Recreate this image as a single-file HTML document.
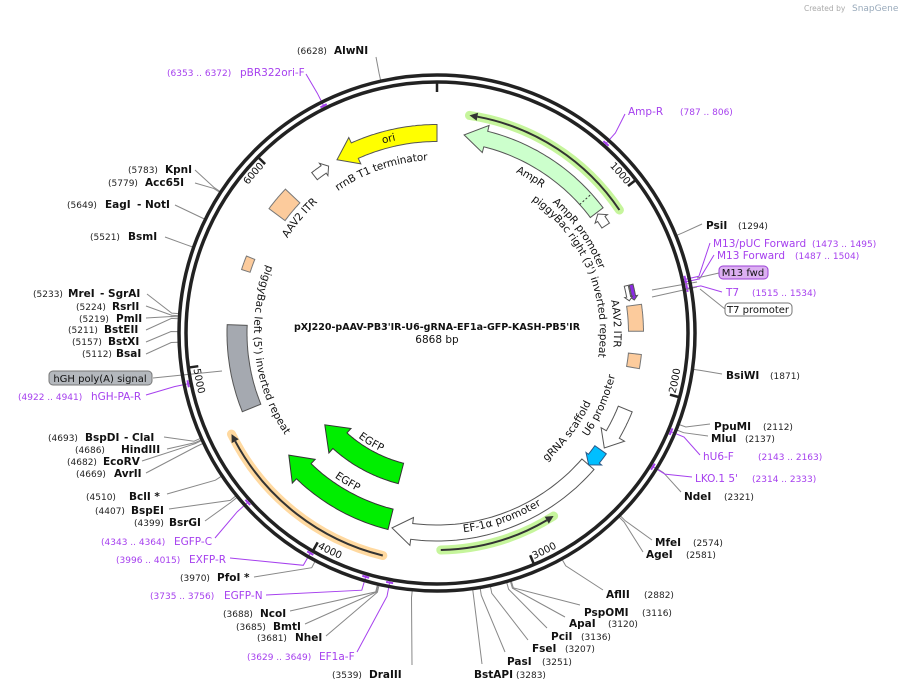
<!DOCTYPE html>
<html><head><meta charset="utf-8">
<style>
html,body{margin:0;padding:0;background:#fff;}
svg{display:block;font-family:"DejaVu Sans","Liberation Sans",sans-serif;}
.n{font-size:9px;fill:#222;}
.b{font-size:10.5px;font-weight:bold;fill:#111;}
.p{font-size:10.5px;fill:#a640ee;}
.pn{font-size:9px;fill:#a640ee;}
.f{font-size:10.5px;fill:#111;}
.t{font-size:10px;fill:#111;}
</style></head>
<body>
<svg id="s" width="901" height="690" viewBox="0 0 901 690" xmlns="http://www.w3.org/2000/svg">
<defs></defs>
<g id="g"></g>
<text x="804" y="11" style="font-size:7.5px;fill:#aaa">Created by</text>
<text x="852" y="11" style="font-size:9px;fill:#9ab">SnapGene</text>
<text x="437" y="330" text-anchor="middle" style="font-size:9.5px;font-weight:bold;fill:#111">pXJ220-pAAV-PB3'IR-U6-gRNA-EF1a-GFP-KASH-PB5'IR</text>
<text x="437" y="343" text-anchor="middle" style="font-size:10.5px;fill:#111">6868 bp</text>

<text x="297" y="54" class="n">(6628)</text><text x="334" y="54" class="b">AlwNI</text>
<text x="167" y="76" class="pn">(6353 .. 6372)</text><text x="240" y="76" class="p">pBR322ori-F</text>
<text x="128" y="173" class="n">(5783)</text><text x="165" y="173" class="b">KpnI</text>
<text x="108" y="186" class="n">(5779)</text><text x="145" y="186" class="b">Acc65I</text>
<text x="67" y="208" class="n">(5649)</text><text x="105" y="208" class="b">EagI</text><text x="137" y="208" class="b">- NotI</text>
<text x="90" y="240" class="n">(5521)</text><text x="128" y="240" class="b">BsmI</text>
<text x="33" y="297" class="n">(5233)</text><text x="68" y="297" class="b">MreI</text><text x="100" y="297" class="b">- SgrAI</text>
<text x="76" y="310" class="n">(5224)</text><text x="112" y="310" class="b">RsrII</text>
<text x="79" y="322" class="n">(5219)</text><text x="116" y="322" class="b">PmlI</text>
<text x="68" y="333" class="n">(5211)</text><text x="104" y="333" class="b">BstEII</text>
<text x="72" y="345" class="n">(5157)</text><text x="108" y="345" class="b">BstXI</text>
<text x="82" y="357" class="n">(5112)</text><text x="116" y="357" class="b">BsaI</text>
<rect x="49" y="371" width="103" height="14" rx="4" fill="#b4b8bd" stroke="#777"/>
<text x="100" y="382" text-anchor="middle" class="f" style="font-size:10px">hGH poly(A) signal</text>
<text x="18" y="400" class="pn">(4922 .. 4941)</text><text x="91" y="400" class="p">hGH-PA-R</text>
<text x="48" y="441" class="n">(4693)</text><text x="85" y="441" class="b">BspDI</text><text x="124" y="441" class="b">- ClaI</text>
<text x="75" y="453" class="n">(4686)</text><text x="121" y="453" class="b">HindIII</text>
<text x="67" y="465" class="n">(4682)</text><text x="103" y="465" class="b">EcoRV</text>
<text x="76" y="477" class="n">(4669)</text><text x="114" y="477" class="b">AvrII</text>
<text x="86" y="500" class="n">(4510)</text><text x="129" y="500" class="b">BclI *</text>
<text x="95" y="514" class="n">(4407)</text><text x="131" y="514" class="b">BspEI</text>
<text x="134" y="526" class="n">(4399)</text><text x="169" y="526" class="b">BsrGI</text>
<text x="101" y="545" class="pn">(4343 .. 4364)</text><text x="174" y="545" class="p">EGFP-C</text>
<text x="116" y="563" class="pn">(3996 .. 4015)</text><text x="189" y="563" class="p">EXFP-R</text>
<text x="180" y="581" class="n">(3970)</text><text x="217" y="581" class="b">PfoI *</text>
<text x="150" y="599" class="pn">(3735 .. 3756)</text><text x="224" y="599" class="p">EGFP-N</text>
<text x="223" y="617" class="n">(3688)</text><text x="260" y="617" class="b">NcoI</text>
<text x="236" y="630" class="n">(3685)</text><text x="273" y="630" class="b">BmtI</text>
<text x="257" y="641" class="n">(3681)</text><text x="295" y="641" class="b">NheI</text>
<text x="247" y="660" class="pn">(3629 .. 3649)</text><text x="319" y="660" class="p">EF1a-F</text>
<text x="332" y="678" class="n">(3539)</text><text x="369" y="678" class="b">DraIII</text>
<text x="474" y="678" class="b">BstAPI</text><text x="516" y="678" class="n">(3283)</text>
<text x="507" y="665" class="b">PasI</text><text x="542" y="665" class="n">(3251)</text>
<text x="532" y="652" class="b">FseI</text><text x="565" y="652" class="n">(3207)</text>
<text x="551" y="640" class="b">PciI</text><text x="581" y="640" class="n">(3136)</text>
<text x="569" y="627" class="b">ApaI</text><text x="608" y="627" class="n">(3120)</text>
<text x="584" y="616" class="b">PspOMI</text><text x="642" y="616" class="n">(3116)</text>
<text x="606" y="598" class="b">AflII</text><text x="644" y="598" class="n">(2882)</text>
<text x="655" y="546" class="b">MfeI</text><text x="693" y="546" class="n">(2574)</text>
<text x="646" y="558" class="b">AgeI</text><text x="686" y="558" class="n">(2581)</text>
<text x="684" y="500" class="b">NdeI</text><text x="724" y="500" class="n">(2321)</text>
<text x="695" y="482" class="p">LKO.1 5'</text><text x="752" y="482" class="pn">(2314 .. 2333)</text>
<text x="703" y="460" class="p">hU6-F</text><text x="758" y="460" class="pn">(2143 .. 2163)</text>
<text x="711" y="442" class="b">MluI</text><text x="745" y="442" class="n">(2137)</text>
<text x="714" y="430" class="b">PpuMI</text><text x="763" y="430" class="n">(2112)</text>
<text x="726" y="379" class="b">BsiWI</text><text x="770" y="379" class="n">(1871)</text>
<rect x="725" y="303" width="67" height="13" rx="4" fill="#fff" stroke="#777"/>
<text x="758" y="313" text-anchor="middle" class="f" style="font-size:10px">T7 promoter</text>
<text x="726" y="296" class="p">T7</text><text x="752" y="296" class="pn">(1515 .. 1534)</text>
<rect x="719" y="266" width="49" height="13" rx="4" fill="#dcb0f2" stroke="#9b3fd6"/>
<text x="743" y="276" text-anchor="middle" class="f" style="font-size:10px">M13 fwd</text>
<text x="717" y="259" class="p">M13 Forward</text><text x="795" y="259" class="pn">(1487 .. 1504)</text>
<text x="713" y="247" class="p">M13/pUC Forward</text><text x="812" y="247" class="pn">(1473 .. 1495)</text>
<text x="706" y="229" class="b">PsiI</text><text x="738" y="229" class="n">(1294)</text>
<text x="628" y="115" class="p">Amp-R</text><text x="680" y="115" class="pn">(787 .. 806)</text>
</svg>
<script>
(function(){
var NS="http://www.w3.org/2000/svg",cx=437,cy=333,T=6868;
var g=document.getElementById('g'),defs=document.querySelector('defs');
function el(t,a,p){var e=document.createElementNS(NS,t);for(var k in a)e.setAttribute(k,a[k]);(p||g).appendChild(e);return e;}
function P(r,a){var q=a*Math.PI/180;return [cx+r*Math.sin(q),cy-r*Math.cos(q)];}
function A(bp){return bp/T*360;}
function f(p){return p[0].toFixed(1)+","+p[1].toFixed(1);}
function lead(bp,x,y,col){var a=A(bp);var p1=P(259,a),p2=P(266,a);
 el('polyline',{points:f(p1)+" "+f(p2)+" "+x+","+y,fill:"none",stroke:col||"#888","stroke-width":1});}
[[6628,376,57],[5783,195,170],[5779,195,183],[5649,175,205],[5521,165,237],[5233,147,294],[5224,146,306],[5219,146,318],[5211,146,330],[5157,146,342],[5112,146,354],
[4693,164,437],[4686,167,449],[4682,142,461],[4669,146,473],[4510,167,494],[4407,169,509],[4399,205,521],[3970,254,577],[3688,290,611],[3685,305,624],[3681,326,636],
[3539,412,665],[3283,482,664],[3251,505,652],[3207,528,640],[3136,547,628],[3120,565,617],[3116,580,605],[2882,603,590],[2574,652,540],[2581,643,552],[2321,681,492],
[2112,710,424],[2137,708,436],[1871,722,374],[1294,702,224]].forEach(function(d){lead(d[0],d[1],d[2]);});
var PU="#a640ee";
[[6362,306,74],[796,625,114],[1484,710,243],[1495,714,255],[1524,722,292],[2153,700,455],[2323,692,477],[4353,215,538],[4005,230,558],[3745,266,595],[3639,357,652],[4931,146,395]].forEach(function(d){
 var a=A(d[0]);var p1=P(252,a),p2=P(268,a);
 el('polyline',{points:f(p1)+" "+f(p2)+" "+d[1]+","+d[2],fill:"none",stroke:PU,"stroke-width":1});
 var q1=P(254,a-0.8),q2=P(254,a+0.8);el('line',{x1:q1[0],y1:q1[1],x2:q2[0],y2:q2[1],stroke:PU,"stroke-width":2});});
el('line',{x1:153,y1:378,x2:222,y2:371,stroke:"#888","stroke-width":1});
el('line',{x1:725,y1:309,x2:700,y2:289,stroke:"#888","stroke-width":1});
el('line',{x1:719,y1:273,x2:697,y2:278,stroke:"#888","stroke-width":1});
el('line',{x1:697,y1:282,x2:652,y2:290,stroke:"#888","stroke-width":1});
el('line',{x1:697,y1:287,x2:652,y2:297,stroke:"#888","stroke-width":1});
el('circle',{cx:cx,cy:cy,r:258,fill:"none",stroke:"#222","stroke-width":3.5});
el('circle',{cx:cx,cy:cy,r:251,fill:"none",stroke:"#222","stroke-width":3.5});
for(var i=0;i<7;i++){var a=A(i*1000);var p1=P(250,a),p2=P(241,a);
 el('line',{x1:p1[0],y1:p1[1],x2:p2[0],y2:p2[1],stroke:"#222","stroke-width":2.5});}
function band(r,w,s,e,head,fill,stroke,hl,hw){
 hl=hl||16;hw=hw||5;var pts=[],n=40,ri=r-w/2,ro=r+w/2,hd=hl/r*180/Math.PI;
 var s2=s,e2=e; if(head==1)e2=e-hd; if(head==-1)s2=s+hd;
 for(var k=0;k<=n;k++)pts.push(P(ro,s2+(e2-s2)*k/n));
 if(head==1){pts.push(P(ro+hw,e2));pts.push(P(r,e));pts.push(P(ri-hw,e2));}
 for(var k=n;k>=0;k--)pts.push(P(ri,s2+(e2-s2)*k/n));
 if(head==-1){pts.push(P(ri-hw,s2));pts.push(P(r,s));pts.push(P(ro+hw,s2));}
 el('polygon',{points:pts.map(f).join(" "),fill:fill,stroke:stroke||"#555","stroke-width":1});}
function arcd(r,s,e){var p1=P(r,s),p2=P(r,e);var big=Math.abs(e-s)>180?1:0;var sw=e>s?1:0;
 return "M"+f(p1)+" A"+r+","+r+" 0 "+big+","+sw+" "+f(p2);}
function orf(r,s,e,head,glow){
 el('path',{d:arcd(r,s,e),fill:"none",stroke:glow,"stroke-width":9,"stroke-linecap":"round"});
 var hd=8/r*180/Math.PI*(e>s?1:-1);
 el('path',{d:arcd(r,s,e-hd),fill:"none",stroke:"#333","stroke-width":2});
 var t=P(r,e),b1=P(r-4,e-hd),b2=P(r+4,e-hd);
 el('polygon',{points:f(t)+" "+f(b1)+" "+f(b2),fill:"#333"});}
orf(220,56,8.5,1,"#c6f59c");
orf(217,179,147.5,1,"#c6f59c");
orf(229,193.7,243.8,1,"#ffd9a0");
band(200,17,330,360,-1,"#ffff00","#555",20,6);
band(200,16,7.8,53,-1,"#ccffcc","#555",22,6);
var d1=P(192,48),d2=P(208,48);el('line',{x1:d1[0],y1:d1[1],x2:d2[0],y2:d2[1],stroke:"#333","stroke-dasharray":"2,2"});
band(200,9,53.5,57.5,-1,"#fff","#555",6,3);
band(199,9,322,327,1,"#fff","#555",6,3);
band(200,16,131,193,1,"#fff","#555",20,6);
band(203,15,112,124.5,1,"#fff","#555",16,6);
band(201,14,125.5,131,1,"#00bfff","#2a5a8a",8,3);
band(145,21,194.4,230.7,1,"#00ee00","#333",22,6);
band(192,21,194,230.5,1,"#00ee00","#333",22,6);
band(200,20,248,272.3,0,"#a5a9b0","#555");
band(199,20,306.5,313.5,0,"#fccb9c","#777");
band(201,9,288,292,0,"#fccb9c","#777");
band(199,15,82,89.5,0,"#fccb9c","#777");
band(199,13,96,100,0,"#fccb9c","#777");
band(200,4,76,80.5,1,"#8a2be2","#555",4,2);
band(195,4,76,80.5,1,"#fff","#555",4,2);
var id=0;
function lab(txt,r,a,cw,size,cls){var span=120,p;id++;
 if(cw)p=arcd(r,a-span,a+span);else p=arcd(r,a+span,a-span);
 el('path',{id:"tp"+id,d:p,fill:"none"},defs);
 var t=el('text',{"class":cls||"f","font-size":size||10.5,"dominant-baseline":"central"});
 var tp=el('textPath',{href:"#tp"+id,startOffset:"50%","text-anchor":"middle"},t);
 tp.setAttributeNS("http://www.w3.org/1999/xlink","xlink:href","#tp"+id);
 tp.textContent=txt;}
lab("ori",200,346,true);
lab("rrnB T1 terminator",176,341,true);
lab("AmpR",182,31,true);
lab("AmpR promoter",177,55,true);
lab("piggyBac right (3') inverted repeat",166,67,true);
lab("AAV2 ITR",180,87,true);
lab("AAV2 ITR",180,310,true);
lab("piggyBac left (5') inverted repeat",180,264,false);
lab("U6 promoter",180,114,false);
lab("gRNA scaffold",166,127,false);
lab("EF-1\u03b1 promoter",198,160.6,false);
lab("EGFP",128,211,false);
lab("EGFP",174,211,false);
for(var i=1;i<7;i++){var a=A(i*1000)-3.5;lab(String(i*1000),243,a,(a>270||a<90),10,"t");}
})();
</script>
</body></html>
